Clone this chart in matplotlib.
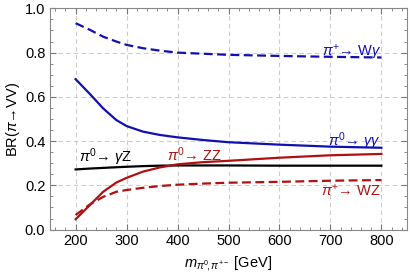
import numpy as np
import matplotlib
matplotlib.use('Agg')
import matplotlib.pyplot as plt
from matplotlib.ticker import MultipleLocator

plt.rcParams['font.family'] = ['Liberation Sans', 'DejaVu Sans']
plt.rcParams['mathtext.fontset'] = 'custom'
plt.rcParams['mathtext.it'] = 'Liberation Sans:italic'
plt.rcParams['mathtext.rm'] = 'Liberation Sans'

# === DATA ===
mass = [200, 228, 254, 280, 300, 332, 365, 400, 450, 500, 600, 700, 800]
br_wgamma = [0.933, 0.903, 0.872, 0.850, 0.835, 0.820, 0.809, 0.800, 0.795, 0.790, 0.785, 0.781, 0.778]
br_gammagamma = [0.680, 0.613, 0.548, 0.495, 0.468, 0.443, 0.428, 0.417, 0.405, 0.395, 0.384, 0.375, 0.370]
br_gammaz = [0.272, 0.276, 0.279, 0.282, 0.284, 0.287, 0.289, 0.290, 0.290, 0.290, 0.289, 0.289, 0.289]
br_zz = [0.047, 0.111, 0.171, 0.213, 0.234, 0.262, 0.281, 0.295, 0.305, 0.311, 0.325, 0.336, 0.342]
br_wz = [0.066, 0.114, 0.148, 0.171, 0.179, 0.189, 0.197, 0.203, 0.208, 0.212, 0.216, 0.221, 0.224]

blue = '#1010b0'
red = '#b01010'

fig, ax = plt.subplots(figsize=(4.11, 2.79), dpi=100)
fig.subplots_adjust(left=0.122, right=0.99, top=0.97, bottom=0.177)

ax.plot(mass, br_wgamma, color=blue, lw=1.6, ls=(0, (4, 2)))
ax.plot(mass, br_gammagamma, color=blue, lw=1.6)
ax.plot(mass, br_gammaz, color='black', lw=1.6)
ax.plot(mass, br_zz, color=red, lw=1.6)
ax.plot(mass, br_wz, color=red, lw=1.6, ls=(0, (4, 2)))

kw = dict(fontsize=10.5, ha='center', va='center')
ax.text(742, 0.80, r'$\pi^{+}$→ W$\gamma$', color=blue, **kw)
ax.text(746, 0.40, r'$\pi^{0}$→ $\gamma\gamma$', color=blue, **kw)
ax.text(740, 0.178, r'$\pi^{+}$→ WZ', color=red, **kw)
ax.text(259, 0.328, r'$\pi^{0}$→ $\gamma$Z', color='black', **kw)
ax.text(432, 0.337, r'$\pi^{0}$→ ZZ', color=red, **kw)

ax.set_xlim(150, 850)
ax.set_ylim(0, 1.0)
ax.xaxis.set_major_locator(MultipleLocator(100))
ax.xaxis.set_minor_locator(MultipleLocator(20))
ax.yaxis.set_major_locator(MultipleLocator(0.2))
ax.yaxis.set_minor_locator(MultipleLocator(0.05))
ax.set_xticks([200, 300, 400, 500, 600, 700, 800])
ax.tick_params(which='both', direction='in', top=True, right=True, color='#777777',
               labelsize=10.5)
ax.tick_params(which='major', length=4)
ax.tick_params(which='minor', length=2)
ax.set_xlim(150, 850)
for s in ax.spines.values():
    s.set_color('#888888')
ax.grid(True, ls=(0, (4, 3)), color='#cccccc', lw=0.8)

ax.set_xlabel(r'$m_{\pi^0\!,\pi^{+-}}$ [GeV]', fontsize=10.5)
ax.set_ylabel(r'BR($\pi$→VV)', fontsize=10.5, labelpad=2)

plt.savefig('out.png', dpi=100)
